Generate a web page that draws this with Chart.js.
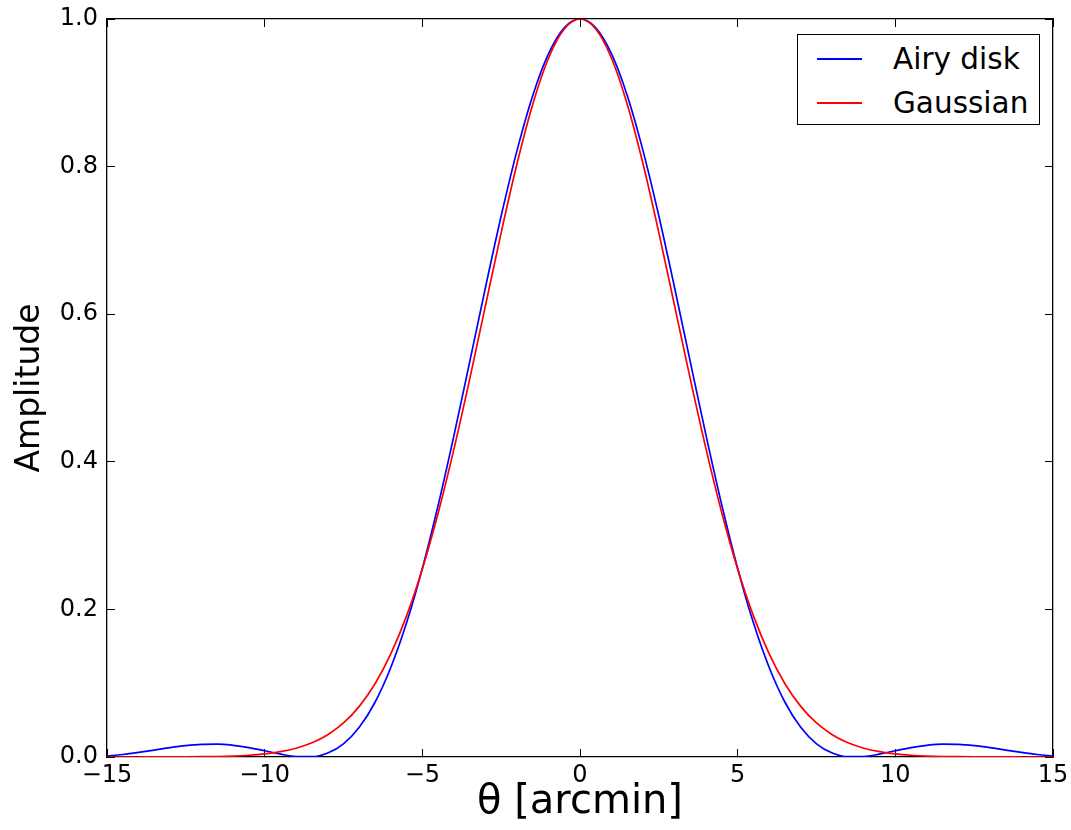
<!DOCTYPE html>
<html>
<head>
<meta charset="utf-8">
<script src="https://cdn.jsdelivr.net/npm/chart.js@4.4.1/dist/chart.umd.min.js"></script>
<style>
  html, body { margin: 0; padding: 0; background: #fff; }
  #wrap { position: relative; width: 1071px; height: 830px; }
  #c { position: absolute; left: 0; top: 0; }
  #legend { position: absolute; left: 797px; top: 34px; width: 243px; height: 91px;
            box-sizing: border-box; border: 1.3px solid #000; background: #fff;
            font-family: "DejaVu Sans", sans-serif; font-size: 29.5px; color: #000; }
  .row { position: absolute; left: 0; width: 100%; height: 40px; }
  .sample { position: absolute; left: 19px; width: 45px; height: 1.7px; top: 19px; }
  .txt { position: absolute; left: 95px; top: 0; line-height: 40px; white-space: nowrap; }
</style>
</head>
<body>
<div id="wrap">
  <canvas id="c" width="1071" height="830"></canvas>
  <div id="legend"></div>
</div>
<script>
// ---- data ----
const thetaArcmin = [
  -15, -14.5, -14, -13.5, -13, -12.5, -12, -11.5, -11, -10.5,
  -10, -9.5, -9, -8.5, -8, -7.5, -7, -6.5, -6, -5.5,
  -5, -4.5, -4, -3.5, -3, -2.5, -2, -1.5, -1, -0.5,
  0,
  0.5, 1, 1.5, 2, 2.5, 3, 3.5, 4, 4.5, 5,
  5.5, 6, 6.5, 7, 7.5, 8, 8.5, 9, 9.5, 10,
  10.5, 11, 11.5, 12, 12.5, 13, 13.5, 14, 14.5, 15
];
const airyDisk = [
  0.0014, 0.0034, 0.0062, 0.0094, 0.0127, 0.0154, 0.0171, 0.0174, 0.0158, 0.0128,
  0.0085, 0.0040, 0.0007, 0.0004, 0.0054, 0.0179, 0.0402, 0.0742, 0.1213, 0.1818,
  0.2555, 0.3408, 0.4352, 0.5350, 0.6359, 0.7331, 0.8213, 0.8960, 0.9526, 0.9880,
  1.0000,
  0.9880, 0.9526, 0.8960, 0.8213, 0.7331, 0.6359, 0.5350, 0.4352, 0.3408, 0.2555,
  0.1818, 0.1213, 0.0742, 0.0402, 0.0179, 0.0054, 0.0004, 0.0007, 0.0040, 0.0085,
  0.0128, 0.0158, 0.0174, 0.0171, 0.0154, 0.0127, 0.0094, 0.0062, 0.0034, 0.0014
];
const gaussian = [
  0.0000, 0.0000, 0.0000, 0.0001, 0.0001, 0.0002, 0.0004, 0.0007, 0.0013, 0.0024,
  0.0042, 0.0072, 0.0119, 0.0192, 0.0302, 0.0461, 0.0686, 0.0992, 0.1396, 0.1912,
  0.2548, 0.3304, 0.4169, 0.5117, 0.6113, 0.7105, 0.8035, 0.8842, 0.9468, 0.9864,
  1.0000,
  0.9864, 0.9468, 0.8842, 0.8035, 0.7105, 0.6113, 0.5117, 0.4169, 0.3304, 0.2548,
  0.1912, 0.1396, 0.0992, 0.0686, 0.0461, 0.0302, 0.0192, 0.0119, 0.0072, 0.0042,
  0.0024, 0.0013, 0.0007, 0.0004, 0.0002, 0.0001, 0.0001, 0.0000, 0.0000, 0.0000
];
const xTickLabels = ['\u221215', '\u221210', '\u22125', '0', '5', '10', '15'];
const yTickLabels = ['0.0', '0.2', '0.4', '0.6', '0.8', '1.0'];
const seriesNames = ['Airy disk', 'Gaussian'];
const xTitle = '\u03B8 [arcmin]';
const yTitle = 'Amplitude';

// ---- chart ----
const FONT = '"DejaVu Sans", "Liberation Sans", sans-serif';
const TICK = -8;
const frame = { display: true, color: '#000', width: 1.3 };
function gridOpts() {
  return { display: true, drawOnChartArea: false, drawTicks: true, tickLength: TICK,
           color: '#000', lineWidth: 1 };
}
function noOverhang(s) {
  s.paddingTop = 0; s.paddingBottom = 0; s.paddingLeft = 0; s.paddingRight = 0;
}
const pts = arr => thetaArcmin.map((x, i) => ({ x: x, y: arr[i] }));

const chart = new Chart(document.getElementById('c'), {
  type: 'line',
  data: {
    datasets: [
      { label: seriesNames[0], data: pts(airyDisk), borderColor: '#0000ff',
        borderWidth: 1.7, pointRadius: 0, fill: false, order: 2,
        cubicInterpolationMode: 'monotone' },
      { label: seriesNames[1], data: pts(gaussian), borderColor: '#ff0000',
        borderWidth: 1.7, pointRadius: 0, fill: false, order: 1,
        cubicInterpolationMode: 'monotone' }
    ]
  },
  options: {
    responsive: false,
    animation: false,
    devicePixelRatio: 1,
    layout: { padding: { top: 19, right: 18, left: 0, bottom: 0 } },
    plugins: { legend: { display: false }, tooltip: { enabled: false } },
    scales: {
      x: {
        type: 'linear', position: 'bottom', min: -15, max: 15,
        grid: gridOpts(), border: frame,
        ticks: { stepSize: 5, color: '#000', padding: 12,
                 font: { family: FONT, size: 24 }, maxRotation: 0,
                 callback: (v, i) => xTickLabels[i] },
        title: { display: true, text: xTitle, color: '#000',
                 font: { family: FONT, size: 40 }, padding: { top: 0, bottom: 3 } },
        afterFit: s => { s.height = 73; noOverhang(s); }
      },
      y: {
        type: 'linear', position: 'left', min: 0, max: 1,
        grid: gridOpts(), border: frame,
        ticks: { stepSize: 0.2, color: '#000', padding: 17,
                 font: { family: FONT, size: 24 },
                 callback: (v, i) => yTickLabels[i] },
        title: { display: true, text: yTitle, color: '#000',
                 font: { family: FONT, size: 33 }, padding: { top: 11, bottom: 0 } },
        afterFit: s => { s.width = 107; noOverhang(s); }
      },
      x2: {
        type: 'linear', position: 'top', min: -15, max: 15,
        grid: gridOpts(), border: frame,
        ticks: { stepSize: 5, display: false },
        afterFit: s => { s.height = 0; noOverhang(s); }
      },
      y2: {
        type: 'linear', position: 'right', min: 0, max: 1,
        grid: gridOpts(), border: frame,
        ticks: { stepSize: 0.2, display: false },
        afterFit: s => { s.width = 0; noOverhang(s); }
      }
    }
  }
});

// ---- legend built from the chart's datasets ----
const legend = document.getElementById('legend');
chart.data.datasets.forEach((ds, i) => {
  const row = document.createElement('div');
  row.className = 'row';
  row.style.top = (4 + i * 44) + 'px';
  const s = document.createElement('div');
  s.className = 'sample';
  s.style.background = ds.borderColor;
  const t = document.createElement('div');
  t.className = 'txt';
  t.textContent = ds.label;
  row.appendChild(s); row.appendChild(t);
  legend.appendChild(row);
});
</script>
</body>
</html>
